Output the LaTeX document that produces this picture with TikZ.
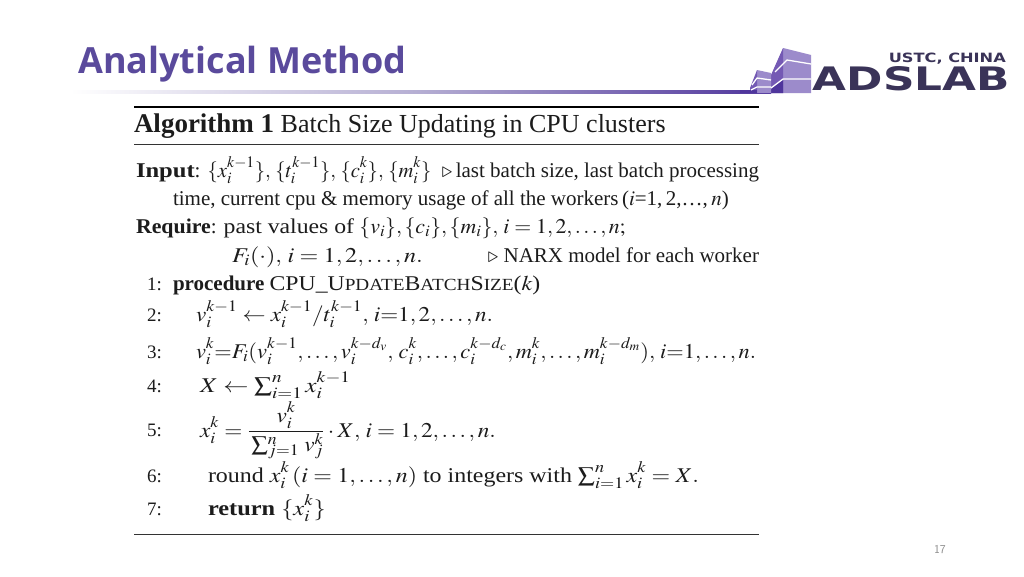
\documentclass[tikz,border=0pt]{standalone}
\usepackage{amsmath,amssymb}
\usepackage{graphicx}
\usepackage{mathptmx}
\usepackage[no-math]{fontspec}
\setmainfont{Liberation Serif}
\newfontfamily\titlefont{Open Sans}
\newfontfamily\logofont{DejaVu Sans}
\usetikzlibrary{shadings}
\DeclareMathSizes{21}{21}{16}{12.5}
\makeatletter
\newcommand{\mathtweak}{\fontsize{21}{21}\selectfont\check@mathfonts
  \fontdimen13\textfont2=10pt \fontdimen14\textfont2=10pt \fontdimen15\textfont2=10pt
  \fontdimen16\textfont2=6.2pt \fontdimen17\textfont2=6.2pt}
\makeatother
\definecolor{titlepurple}{HTML}{5A4A9C}
\definecolor{logodark}{HTML}{3A3358}
\definecolor{logolight}{HTML}{9C8BCB}
\definecolor{logomid}{HTML}{7459B4}
\definecolor{logodeep}{HTML}{4F359C}
\definecolor{pagegray}{HTML}{8A8A8A}
\definecolor{alginkcol}{HTML}{1C1C1C}
\tikzset{
  ln/.style={anchor=base west,inner sep=0pt,outer sep=0pt,text=alginkcol,font=\fontsize{21}{21}\selectfont},
  ar/.style={anchor=base east,inner sep=0pt,outer sep=0pt,text=alginkcol,font=\fontsize{21}{21}\selectfont},
  num/.style={anchor=base east,inner sep=0pt,outer sep=0pt,text=alginkcol,font=\fontsize{19}{19}\selectfont},
  rulea/.style={draw=black,line width=1.6pt},
  ruleb/.style={draw=black!80,line width=0.9pt},
  lg/.style={fill=logolight,draw=none},
  ld/.style={fill=logomid,draw=none},
  stripe/.style={draw=white,line width=1.3pt,line join=round}
}
\newcommand{\trt}{\mathbin{\triangleright}}
\newcommand{\sx}[2]{\scalebox{#1}[1]{#2}}
\newcommand{\smc}[1]{{\fontsize{17}{17}\selectfont #1}}
\newcommand{\ups}[1]{\raisebox{-3pt}[0pt][0pt]{$\scriptstyle #1$}}
\newcommand{\dns}[1]{\raisebox{2.5pt}[0pt][0pt]{$\scriptstyle #1$}}
\newcommand{\lows}[1]{\raisebox{3.2pt}[0pt][0pt]{$\scriptstyle #1$}}
\begin{document}
\begin{tikzpicture}[x=1pt,y=-1pt]
\mathtweak
\useasboundingbox (0,0) rectangle (1024,576);
\fill[white] (0,0) rectangle (1024,576);
% title
\node[anchor=base west,inner sep=0pt,text=titlepurple,font=\titlefont\bfseries\fontsize{36}{36}\selectfont] (title) at (78,73) {Analytical Method};
\shade[left color=white,right color=logodeep,middle color=titlepurple!45] (70,90) rectangle (771,93);
% logo
\fill[lg] (783,48) -- (811,55) -- (811,93) -- (783,93) -- cycle;
\fill[ld] (783,48) -- (771,75) -- (771,93) -- (783,93) -- cycle;
\fill[logodeep] (771,88) -- (783,80) -- (783,93) -- (771,93) -- cycle;
\fill[lg] (757,70) -- (771,73) -- (771,93) -- (757,93) -- cycle;
\fill[ld] (757,70) -- (750,88) -- (750,93) -- (757,93) -- cycle;
\fill[logodeep] (740,90) rectangle (757,93);
\draw[stripe] (811,64) -- (787,60) -- (775,72);
\draw[stripe] (811,79) -- (783,79) -- (771,88);
\draw[stripe] (771,80) -- (757,78) -- (752,85);
\draw[stripe] (771,87) -- (757,87) -- (751,90);
\node[anchor=base east,inner sep=0pt,text=logodark] (usc) at (1006,62.5) {\resizebox{117pt}{9.5pt}{\logofont\bfseries USTC, CHINA}};
\node[anchor=base east,inner sep=0pt,text=logodark] (ads) at (1010,90.5) {\resizebox{197pt}{24pt}{\logofont\bfseries ADSLAB}};
% rules
\coordinate (r1a) at (134,107); \coordinate (r1b) at (759,107);
\coordinate (r2a) at (134,144); \coordinate (r2b) at (759,144);
\coordinate (r3a) at (134,534.5); \coordinate (r3b) at (759,534.5);
\draw[rulea] (r1a) -- (r1b);
\draw[ruleb] (r2a) -- (r2b);
\draw[ruleb] (r3a) -- (r3b);
% caption
\node[ln,font=\fontsize{26}{26}\selectfont] (cap) at (134,132) {{\fontsize{27}{27}\selectfont\textbf{Algorithm 1}} Batch Size Updating in CPU clusters};
% input
\node[ln] (inp) at (136,177) {\sx{1.17}{\textbf{Input}}: \sx{0.98}{$\{x_i^{k-1}\},\,\{t_i^{k-1}\},\,\{c_i^{k}\},\,\{m_i^{k}\}$}};
\node[ar] (inpc) at (759,177) {$\trt$\,last batch size, last batch processing};
\node[ln] (time) at (173,205) {time, current cpu \& memory usage of all the workers\,($i$=1,\,2,\ldots,\,$n$)};
\node[ln] (req) at (136,233) {\sx{1.04}{\textbf{Require}}: \sx{1.13}{past values of} \sx{1.04}{$\{v_{\lows{i}}\},\{c_{\lows{i}}\},\{m_{\lows{i}}\},\,i=1,2,\ldots,n;$}};
\node[ln] (fi) at (232,262) {\sx{1.15}{$F_{\lows{i}}(\cdot),\,i=1,2,\ldots,n.$}};
\node[ar] (fic) at (759,262) {$\trt$ NARX model for each worker};
% numbers
\node[num] (n1) at (162,290) {1:};
\node[num] (n2) at (162,321) {2:};
\node[num] (n3) at (162,358) {3:};
\node[num] (n4) at (162,392) {4:};
\node[num] (n5) at (162,436) {5:};
\node[num] (n6) at (162,482) {6:};
\node[num] (n7) at (162,515) {7:};
% steps
\node[ln] (s1) at (173,290) {\textbf{procedure} \sx{1.13}{CPU\_U\smc{PDATE}B\smc{ATCH}S\smc{IZE}($k$)}};
\node[ln] (s2) at (196,321) {\sx{1.10}{$v_i^{k-1}\leftarrow x_i^{k-1}/t_i^{k-1},\,i{=}1,2,\ldots,n.$}};
\node[ln] (s3) at (196,358) {\sx{1.067}{$v_i^k{=}F_{\lows{i}}(v_i^{k-1},\ldots,v_i^{k-d_v},\,c_i^k,\ldots,c_i^{k-d_c},m_i^k,\ldots,m_i^{k-d_m}),\,i{=}1,\ldots,n.$}};
\node[ln] (s4) at (200,392) {\sx{1.2}{$X\leftarrow\sum_{i=1}^{n}x_i^{k-1}$}};
\node[ln] (s5) at (200,437) {\sx{1.107}{$x_i^k=\dfrac{v_i^k}{\rule{0pt}{15pt}\sum_{\dns{j=1}}^{\ups{n}}\,v_{\dns{j}}^{\ups{k}}}\cdot X,\,i=1,2,\ldots,n.$}};
\node[ln] (s6) at (208,482) {\sx{1.14}{round $x_i^k\,(i=1,\ldots,n)$ to integers with $\sum_{i=1}^{n}x_i^k=X.$}};
\node[ln] (s7) at (208,515) {\sx{1.16}{\textbf{return} $\{x_i^k\}$}};
% page
\node[anchor=base east,inner sep=0pt,text=pagegray,font=\fontsize{12}{12}\selectfont\sffamily] (pg) at (946,553) {17};
\end{tikzpicture}
\end{document}
